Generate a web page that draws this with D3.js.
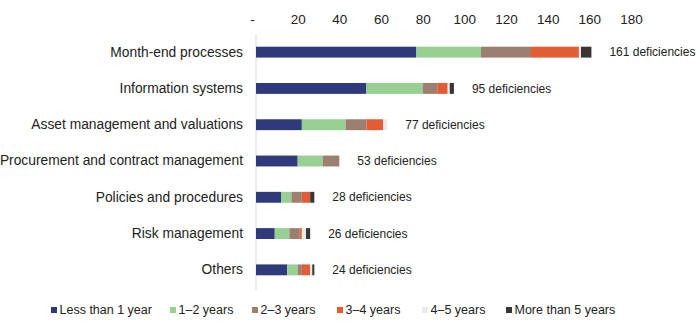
<!DOCTYPE html>
<html>
<head>
<meta charset="utf-8">
<script src="https://cdn.jsdelivr.net/npm/d3@7"></script>
<style>
  body { margin: 0; background: #fff; }
  text { font-family: "Liberation Sans", Arial, sans-serif; fill: #222; }
</style>
</head>
<body>
<div class="deficiency-chart"></div>
<script>
var categories = ["Month-end processes", "Information systems", "Asset management and valuations",
  "Procurement and contract management", "Policies and procedures", "Risk management", "Others"]
var seriesNames = ["Less than 1 year", "1\u20132 years", "2\u20133 years", "3\u20134 years", "4\u20135 years", "More than 5 years"]
var lessThan1 = [77, 53, 22, 20, 12, 9, 15]
var oneToTwo = [31, 27, 21, 12, 5, 7, 5]
var twoToThree = [24, 7, 10, 8, 5, 5, 2]
var threeToFour = [23, 5, 8, 0, 4, 1, 4]
var fourToFive = [1, 1, 2, 0, 0, 2, 1]
var moreThan5 = [5, 2, 0, 0, 2, 2, 1]
var totals = [161, 95, 77, 53, 28, 26, 24]
var tickValues = [0, 20, 40, 60, 80, 100, 120, 140, 160, 180]

document.addEventListener("DOMContentLoaded", runD3)

function runD3() {
  var width = 700,
    height = 325

  var colors = ["#2e3a7c", "#98d093", "#9b8070", "#e25c35", "#e9e9e9", "#3b3636"]
  var allSeries = [lessThan1, oneToTwo, twoToThree, threeToFour, fourToFive, moreThan5]

  var rows = categories.map(function (c, i) {
    var row = { category: c, total: totals[i] }
    seriesNames.forEach(function (s, j) { row[s] = allSeries[j][i] })
    return row
  })

  var stacked = d3.stack().keys(seriesNames)(rows)

  var svg = d3.select(".deficiency-chart").append("svg")
    .attr("width", width)
    .attr("height", height)

  var xScale = d3.scaleLinear()
    .domain([0, 180])
    .range([256, 631])

  var yScale = d3.scaleBand()
    .domain(categories)
    .range([34, 288])
    .paddingInner(0.7)
    .paddingOuter(0.35)

  // top axis, no line, "-" for zero
  var xAxis = d3.axisTop(xScale)
    .tickValues(tickValues)
    .tickSize(0)
    .tickPadding(0)
    .tickFormat(function (d) { return d === 0 ? "-" : d })

  svg.append("g")
    .attr("transform", "translate(0,24)")
    .call(xAxis)
    .call(function (g) { g.select(".domain").remove() })
    .selectAll("text")
    .style("font-size", "13.5px")
    .attr("fill", "#222")
    .attr("dx", function (d) { return d === 0 ? -4 : 0 })

  // vertical baseline
  svg.append("line")
    .attr("x1", xScale(0)).attr("x2", xScale(0))
    .attr("y1", 34).attr("y2", 290)
    .attr("stroke", "#d9d9d9")
    .attr("stroke-width", 1)

  var yAxis = d3.axisLeft(yScale).tickSize(0).tickPadding(13)
  svg.append("g")
    .attr("transform", `translate(${xScale(0)},0)`)
    .call(yAxis)
    .call(function (g) { g.select(".domain").remove() })
    .selectAll("text")
    .style("font-size", "13.8px")
    .attr("fill", "#222")

  svg.append("g")
    .selectAll("g")
    .data(stacked)
    .enter().append("g")
    .attr("fill", function (d, i) { return colors[i] })
    .selectAll("rect")
    .data(function (d) { return d })
    .enter().append("rect")
    .attr("x", function (d) { return xScale(d[0]) })
    .attr("width", function (d) { return xScale(d[1]) - xScale(d[0]) })
    .attr("y", function (d) { return yScale(d.data.category) })
    .attr("height", yScale.bandwidth())

  var last = stacked[stacked.length - 1]
  svg.append("g")
    .selectAll("text")
    .data(last)
    .enter().append("text")
    .attr("x", function (d) { return xScale(d[1]) + 18 })
    .attr("y", function (d) { return yScale(d.data.category) + yScale.bandwidth() / 2 })
    .attr("dy", "0.35em")
    .style("font-size", "12px")
    .text(function (d) { return d.data.total + " deficiencies" })

  // legend
  var legendX = [51, 170, 252, 337, 422, 506]
  var legend = svg.append("g")
    .selectAll("g")
    .data(seriesNames)
    .enter().append("g")
    .attr("transform", function (d, i) { return `translate(${legendX[i]},310)` })

  legend.append("rect")
    .attr("y", -3)
    .attr("width", 6).attr("height", 6)
    .attr("fill", function (d, i) { return colors[i] })

  legend.append("text")
    .attr("x", 8.5)
    .attr("dy", "0.35em")
    .style("font-size", "12.5px")
    .text(function (d) { return d })
}
</script>
</body>
</html>
